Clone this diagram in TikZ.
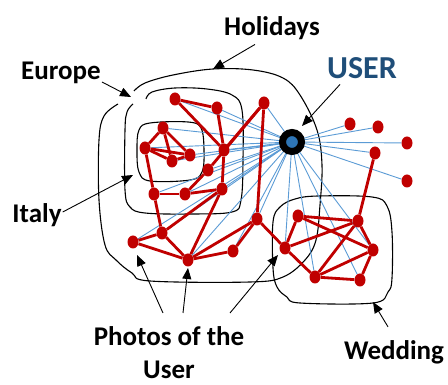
\documentclass[tikz,border=0pt]{standalone}
\usepackage{fontspec}
\setmainfont{Carlito}
\usetikzlibrary{arrows.meta,shapes.geometric}
\pgfdeclarelayer{views}
\pgfdeclarelayer{links}
\pgfsetlayers{views,links,main}
\definecolor{photored}{HTML}{C00000}
\definecolor{viewblue}{HTML}{5B9BD5}
\definecolor{userblue}{HTML}{2E75B6}
\definecolor{userdark}{HTML}{1F4E79}

\begin{document}
\begin{tikzpicture}[x=1pt, y=-1pt,
    photo/.style={ellipse, fill=photored, minimum width=11pt, minimum height=13pt, inner sep=0pt},
    owner/.style={circle, draw=black, line width=7pt, fill=userblue, minimum size=19pt, inner sep=0pt},
    link/.style={photored, line width=2.8pt},
    view/.style={viewblue, line width=0.9pt},
    region/.style={black, line width=1.1pt, smooth, tension=0.6},
    pointer/.style={-{Triangle[length=11pt,width=9pt]}, line width=0.9pt},
    tag/.style={font=\fontsize{27}{33}\selectfont\bfseries, inner sep=1pt}
]
\useasboundingbox (0,0) rectangle (448,385);

% Photos
\foreach \name/\x/\y in {p1/175/99, p2/217/108, p3/264/103, i1/163/128, i2/145/148,
    i3/172/161, i4/190/155, p4/224/150, p5/208/170, p6/154/194, p7/185/194,
    p8/222/189, p9/257/219, p10/162/233, p11/133/242, p12/188/260, p13/233/251,
    w1/285/248, w2/298/216, w3/358/221, w4/373/250, w5/315/277, w6/360/280,
    o1/350/124, o2/378/127, o3/407/143, o4/375/153, o5/407/181} {
    \node[photo] (\name) at (\x,\y) {};
}
\node[owner] (u) at (292,142) {};

% Groups
\begin{pgfonlayer}{views}
\draw[region] plot[smooth cycle] coordinates {(150,123) (188,122) (201,128) (204,150)
    (202,172) (190,180) (150,181) (139,172) (137,150) (139,130)};
\draw[region] plot coordinates {(146,99) (152,92) (175,88) (207,89) (232,95) (242,110)
    (243,160) (241,200) (232,212) (190,214) (145,213) (130,207) (125,190) (125,130)
    (127,112) (133,104)};
\draw[region] plot coordinates {(134,91) (145,83) (173,75) (213,69) (253,70) (283,78)
    (300,95) (317,130) (322,165) (320,205) (316,240) (305,260) (283,277) (250,282)
    (150,281) (132,273) (116,260) (105,245) (99,200) (99,140) (104,116) (118,104)};
\draw[region] plot[smooth cycle] coordinates {(280,207) (295,199) (318,196) (372,197)
    (387,206) (392,232) (392,278) (388,292) (373,303) (300,303) (287,297) (277,287)
    (273,268) (273,222)};
\end{pgfonlayer}

% Views from the user
\begin{pgfonlayer}{views}
\foreach \n in {p1,p2,p3,i1,i2,i3,i4,p4,p5,p6,p7,p8,p9,p10,p11,p12,p13,
    w1,w4,w5,w6,o1,o2,o3,o4,o5} {
    \draw[view] (u.center) -- (\n);
}
\end{pgfonlayer}

% Links between photos
\begin{pgfonlayer}{links}
\foreach \a/\b in {p1/p2, p1/p4, p2/p4, p3/p4, p3/p5, p3/p9,
    i1/i2, i1/i3, i1/i4, i2/i3, i2/i4, i3/i4,
    i2/p6, p6/p7, p7/p8, p5/p7, p4/p8, p6/p10, p10/p11, p10/p12, p11/p12,
    p10/p8, p12/p8, p12/p13, p12/p9, p13/p9, p9/w1,
    w1/w2, w1/w3, w1/w5, w2/w3, w2/w4, w3/w4, w3/w5, w4/w5, w4/w6, w5/w6, w3/o4} {
    \draw[link] (\a) -- (\b);
}
\end{pgfonlayer}

% Labels
\node[tag, anchor=base] (holidays) at (272,36) {Holidays};
\node[tag, anchor=base] (europe) at (61,80) {Europe};
\node[tag, anchor=base, font=\fontsize{32}{36}\selectfont\bfseries, text=userdark] (usertag) at (362,79) {USER};
\node[tag, anchor=base] (italy) at (37,223) {Italy};
\node[tag, anchor=north, align=center] (photos) at (169,325) {Photos of the\\User};
\node[tag, anchor=base] (wedding) at (394,360) {Wedding};

\coordinate (holtip) at (213,69);
\coordinate (eurtip) at (131,97);
\coordinate (usrtip) at (302,126);
\coordinate (itatip) at (133,175);
\coordinate (phtip1) at (137,255);
\coordinate (phtip2) at (188,268);
\coordinate (phtip3) at (278,255);
\coordinate (wedtip) at (373,302);

% Pointers
\draw[pointer] ([xshift=-17pt,yshift=-3pt]holidays.south) -- (holtip);
\draw[pointer] ([yshift=-2pt]europe.base east) -- (eurtip);
\draw[pointer] ([xshift=-22pt,yshift=-4pt]usertag.south) -- (usrtip);
\draw[pointer] ([yshift=11pt]italy.base east) -- (itatip);
\draw[pointer] ([xshift=-6pt,yshift=12pt]photos.north) -- (phtip1);
\draw[pointer] ([xshift=14pt,yshift=12pt]photos.north) -- (phtip2);
\draw[pointer] ([xshift=61pt,yshift=12pt]photos.north) -- (phtip3);
\draw[pointer] ([xshift=-6pt,yshift=13pt]wedding.north) -- (wedtip);

\end{tikzpicture}
\end{document}
